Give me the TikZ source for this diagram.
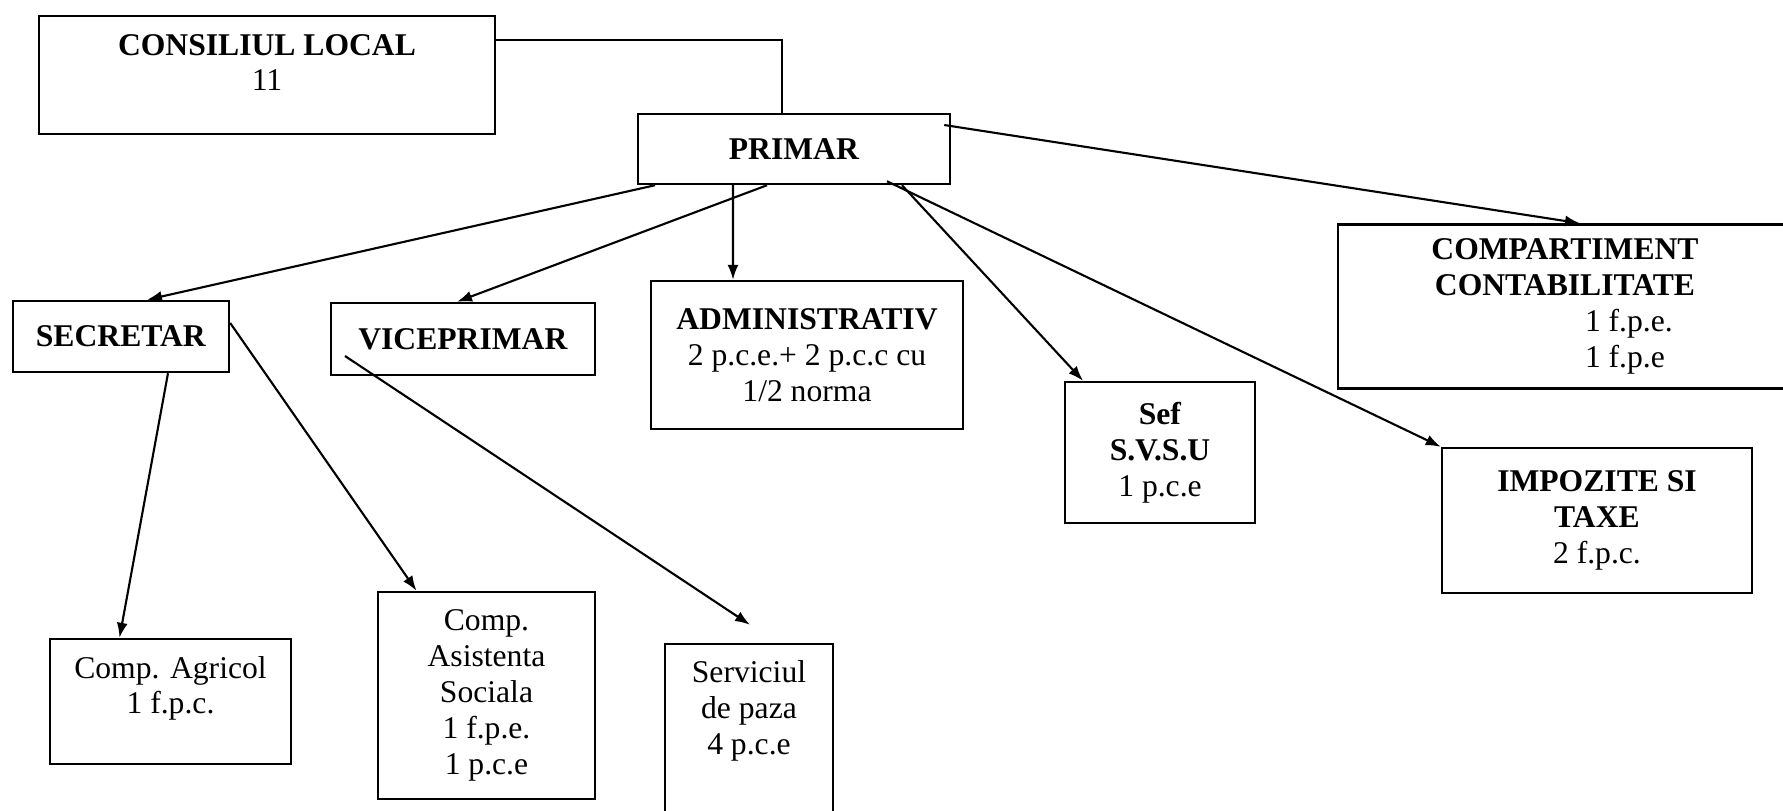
\documentclass[tikz,border=0pt]{standalone}
\usepackage{fontspec}
\setmainfont{Liberation Serif}
\usepackage{tikz}
\usetikzlibrary{calc,arrows.meta}
\tikzset{cadru/.style={
    draw,
    line width=0.7pt,
    align=center,
    inner sep=0pt,
    font=\fontsize{9}{10.2}\selectfont}}
\tikzset{leg/.style={
    line width=0.6pt}}
\newcommand{\posturi}[1]{\hspace*{1.3cm}\makebox[0.9cm][l]{#1}}

\begin{document}
\begin{tikzpicture}[>={Latex[length=1.5mm,width=1.1mm]}]

\useasboundingbox (0,0) rectangle (17.83,-8.10);

\coordinate (CL) at (2.67,-0.75);
\coordinate (P) at (7.94,-1.49);
\coordinate (S) at (1.21,-3.365);
\coordinate (V) at (4.63,-3.39);
\coordinate (A) at (8.07,-3.55);
\coordinate (SV) at (11.60,-4.525);
\coordinate (C) at (15.65,-3.065);
\coordinate (T) at (15.97,-5.205);
\coordinate (AG) at (1.705,-7.015);
\coordinate (AS) at (4.865,-6.955);
\coordinate (PZ) at (7.49,-7.37);

\node[cadru,
  minimum width=4.56cm,
  minimum height=1.18cm,
  text depth=0.25cm] (cl) at (CL) {\textbf{CONSILIUL LOCAL}\\11};

\node[cadru,
  minimum width=3.12cm,
  minimum height=0.70cm] (primar) at (P) {\textbf{PRIMAR}};

\node[cadru,
  minimum width=2.16cm,
  minimum height=0.71cm] (secretar) at (S) {\textbf{SECRETAR}};

\node[cadru,
  minimum width=2.64cm,
  minimum height=0.72cm] (vice) at (V) {\textbf{VICEPRIMAR}};

\node[cadru,
  minimum width=3.12cm,
  minimum height=1.48cm] (admin) at (A) {\textbf{ADMINISTRATIV}\\2 p.c.e.+ 2 p.c.c cu\\1/2 norma};

\node[cadru,
  minimum width=1.90cm,
  minimum height=1.41cm] (svsu) at (SV) {\textbf{Sef}\\\textbf{S.V.S.U}\\1 p.c.e};

\node[cadru,
  minimum width=4.54cm,
  minimum height=1.64cm] (contab) at (C) {\textbf{COMPARTIMENT}\\\textbf{CONTABILITATE}\\\posturi{1 f.p.e.}\\\posturi{1 f.p.e}};

\node[cadru,
  minimum width=3.10cm,
  minimum height=1.45cm] (taxe) at (T) {\textbf{IMPOZITE SI}\\\textbf{TAXE}\\2 f.p.c.};

\node[cadru,
  minimum width=2.41cm,
  minimum height=1.25cm,
  text depth=0.33cm] (agricol) at (AG) {Comp. Agricol\\1 f.p.c.};

\node[cadru,
  minimum width=2.17cm,
  minimum height=2.07cm] (asist) at (AS) {Comp.\\Asistenta\\Sociala\\1 f.p.e.\\1 p.c.e};

\node[cadru,
  minimum width=1.68cm,
  minimum height=1.86cm,
  text depth=0.59cm] (paza) at (PZ) {Serviciul\\de paza\\4 p.c.e};

\draw[leg] ($(cl.north east)+(0,-0.25)$) -| ($(primar.north)+(-0.12,0)$);

\draw[leg,->] ($(primar.south)+(-1.39,0)$) -- ($(secretar.north)+(0.26,0)$);
\draw[leg,->] ($(primar.south)+(-0.27,0)$) -- ($(vice.north)+(-0.06,0)$);
\draw[leg,->] ($(primar.south)+(-0.61,0)$) -- ($(admin.north)+(-0.74,0)$);
\draw[leg,->] ($(primar.south)+(1.08,0)$) -- ($(svsu.north)+(-0.77,0)$);
\draw[leg,->] ($(primar.south)+(0.93,0.04)$) -- (taxe.north west);
\draw[leg,->] ($(primar.east)+(-0.07,0.24)$) -- ($(contab.north)+(0.15,0)$);

\draw[leg,->] ($(secretar.south)+(0.47,0)$) -- ($(agricol.north)+(-0.51,0)$);
\draw[leg,->] ($(secretar.east)+(0,0.135)$) -- ($(asist.north)+(-0.70,0)$);
\draw[leg,->] ($(vice.center)+(-1.18,-0.17)$) -- ($(paza.north)+(0.01,0.18)$);

\end{tikzpicture}
\end{document}
